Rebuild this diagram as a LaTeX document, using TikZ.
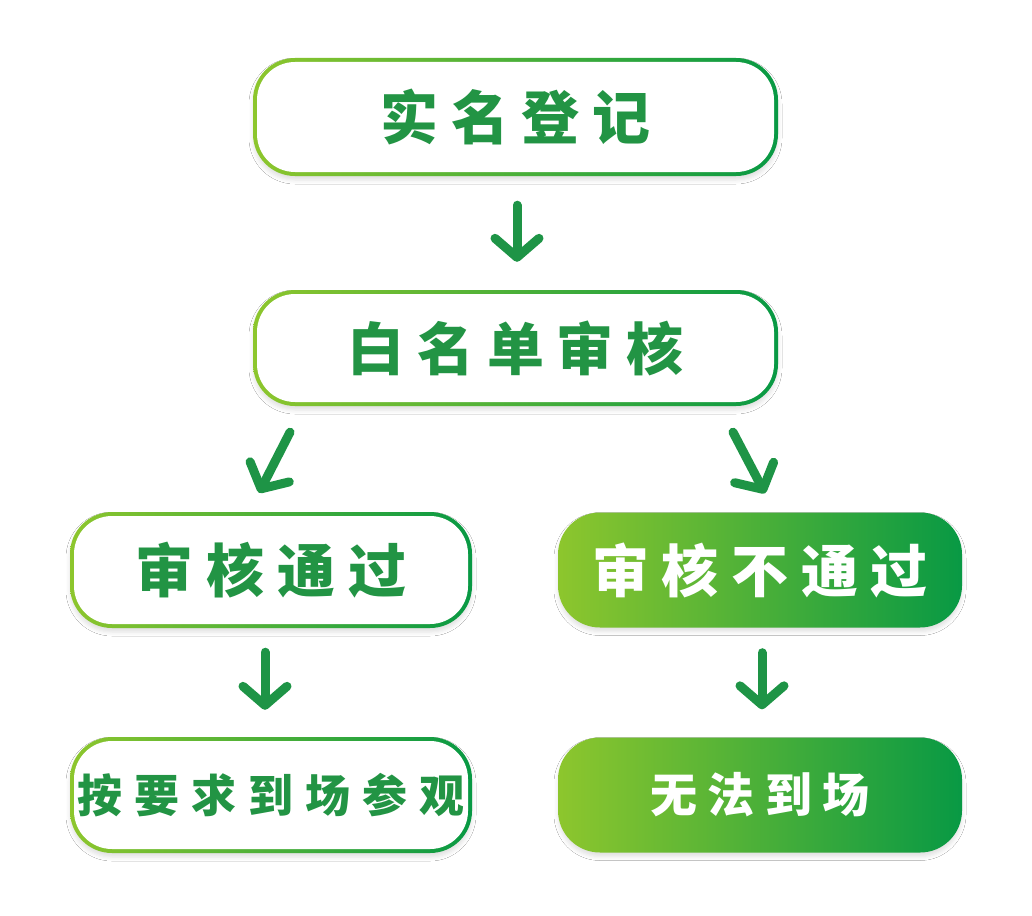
\documentclass[tikz,border=0pt]{standalone}
\usepackage{fontspec}
\newfontfamily\cjk{Noto Sans CJK SC}
\usetikzlibrary{arrows.meta,calc,shadows.blur}
\definecolor{gA}{RGB}{141,198,45}
\definecolor{gB}{RGB}{8,153,68}
\definecolor{txtg}{RGB}{34,148,68}
\definecolor{arrg}{RGB}{30,148,70}
\newcommand\gk{\kern0.22em}
\begin{document}
\begin{tikzpicture}[x=1pt,y=-1pt,
  box/.style={rounded corners=42pt, left color=gA, right color=gB, draw=none,
    inner sep=0pt, font=\cjk\bfseries, text=txtg,
    blur shadow={shadow xshift=0pt, shadow yshift=-4pt, shadow blur radius=4pt, shadow opacity=12},
    path picture={\fill[white, rounded corners=38pt]
      ([shift={(4pt,-4pt)}]path picture bounding box.north west) rectangle
      ([shift={(-4pt,4pt)}]path picture bounding box.south east);}},
  fbox/.style={rounded corners=42pt, left color=gA, right color=gB, draw=none,
    inner sep=0pt, font=\cjk\bfseries, text=white,
    blur shadow={shadow xshift=0pt, shadow yshift=-4pt, shadow blur radius=4pt, shadow opacity=12}},
  arr/.style={draw=arrg, line width=9pt, line cap=round, line join=round,
    -{Straight Barb[length=19pt, width=44pt, round]}}
]
\useasboundingbox[fill=white] (0,0) rectangle (1032,915);

\node[box, minimum width=525pt, minimum height=118pt] (b1) at (515.5,117)
  {\fontsize{58}{60}\selectfont 实\gk 名\gk 登\gk 记};
\node[box, minimum width=525pt, minimum height=116pt] (b2) at (515.5,348)
  {\fontsize{57}{60}\selectfont 白\gk 名\gk 单\gk 审\gk 核};
\node[box, minimum width=402pt, minimum height=116pt] (b3) at (271,570)
  {\fontsize{58}{60}\selectfont 审\gk 核\gk 通\gk 过};
\node[fbox, minimum width=404pt, minimum height=115pt] (b4) at (760,570)
  {\fontsize{57}{60}\selectfont 审\gk 核\gk 不\gk 通\gk 过};
\node[box, minimum width=402pt, minimum height=116pt] (b5) at (271,795)
  {\fontsize{45}{48}\selectfont 按\kern0.27em 要\kern0.27em 求\kern0.27em 到\kern0.27em 场\kern0.27em 参\kern0.27em 观};
\node[fbox, minimum width=404pt, minimum height=115pt] (b6) at (760,795)
  {\fontsize{47}{50}\selectfont 无\gk 法\gk 到\gk 场};

\draw[arr] ($(b1.south)+(1.5,29)$) -- ($(b2.north)+(1.5,-28)$);
\draw[arr] ($(b2.south)+(-225.5,26)$) -- ($(b3.north)+(-12,-19)$);
\draw[arr] ($(b2.south)+(217.5,26)$) -- ($(b4.north)+(5,-19)$);
\draw[arr] ($(b3.south)+(-6,24)$) -- ($(b5.north)+(-6,-27)$);
\draw[arr] ($(b4.south)+(2,25)$) -- ($(b6.north)+(2,-28)$);
\end{tikzpicture}
\end{document}
